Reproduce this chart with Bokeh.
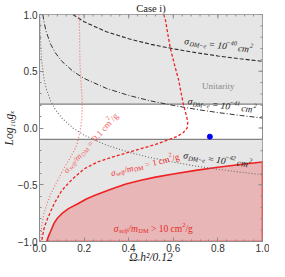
import math
from bokeh.plotting import figure
from bokeh.models import Label, FixedTicker, Range1d, Title
from bokeh.embed import file_html
from bokeh.resources import INLINE

# ---------------- data ----------------
x_ticks = [0.0, 0.2, 0.4, 0.6, 0.8, 1.0]
x_tick_labels = ["0.0", "0.2", "0.4", "0.6", "0.8", "1.0"]
y_ticks = [-1.0, -0.5, 0.0, 0.5, 1.0]
y_tick_labels = ["−1.0", "−0.5", "0.0", "0.5", "1.0"]

band_upper_edge = 0.21    # lower edge of the upper grey (unitarity) band
band_lower_edge = -0.10   # upper edge of the lower grey band

# sigma_DM-e = 1e-40 cm^2 (black dashed)
s40_x = [0.15, 0.2, 0.3, 0.4, 0.5, 0.6, 0.7, 0.8, 0.9, 1.0]
s40_y = [1.0, 0.936, 0.848, 0.786, 0.737, 0.698, 0.664, 0.635, 0.61, 0.587]
# sigma_DM-e = 1e-41 cm^2 (black dash-dot)
s41_x = [0.015, 0.02, 0.03, 0.05, 0.07, 0.1, 0.15, 0.2, 0.3, 0.4, 0.5, 0.6, 0.7, 0.8, 0.9, 1.0]
s41_y = [1.0, 0.937, 0.849, 0.738, 0.665, 0.588, 0.5, 0.437, 0.349, 0.287, 0.238, 0.199, 0.165, 0.136, 0.111, 0.088]
# sigma_DM-e = 1e-42 cm^2 (grey dotted)
s42_x = [0.0015, 0.002, 0.003, 0.005, 0.01, 0.02, 0.03, 0.05, 0.07, 0.1, 0.15, 0.2, 0.3, 0.4, 0.5, 0.6, 0.7, 0.8, 0.9, 1.0]
s42_y = [1.0, 0.937, 0.85, 0.738, 0.588, 0.437, 0.349, 0.238, 0.165, 0.088, 0.0, -0.063, -0.151, -0.213, -0.262, -0.301, -0.335, -0.364, -0.389, -0.412]

# sigma_self/m_DM = 10 cm^2/g (red solid, boundary of red region)
self10_x = [0.032, 0.04, 0.05, 0.065, 0.08, 0.10, 0.13, 0.174, 0.21, 0.246, 0.32, 0.384, 0.45, 0.52, 0.6, 0.7, 0.8, 0.9, 1.0]
self10_y = [-1.0, -0.955, -0.91, -0.84, -0.795, -0.755, -0.71, -0.665, -0.625, -0.595, -0.54, -0.495, -0.462, -0.433, -0.405, -0.373, -0.346, -0.322, -0.30]
# sigma_self/m_DM = 1 cm^2/g (red dashed)
self1_x = [0.557, 0.565, 0.576, 0.587, 0.605, 0.623, 0.645, 0.66, 0.665, 0.662, 0.645, 0.616, 0.57, 0.52, 0.45, 0.39, 0.32, 0.26, 0.2, 0.145, 0.1, 0.065, 0.04, 0.022, 0.009]
self1_y = [1.0, 0.95, 0.82, 0.70, 0.56, 0.43, 0.21, 0.10, 0.05, 0.0, -0.04, -0.076, -0.11, -0.145, -0.185, -0.22, -0.26, -0.30, -0.36, -0.455, -0.55, -0.67, -0.78, -0.87, -1.0]
# sigma_self/m_DM = 0.1 cm^2/g (light red dotted)
self01_x = [0.178, 0.18, 0.181, 0.186, 0.192, 0.19, 0.186, 0.178, 0.167, 0.15, 0.13, 0.108, 0.087, 0.068, 0.051, 0.035, 0.02, 0.01, 0.005]
self01_y = [1.0, 0.8, 0.6, 0.4, 0.23, 0.1, 0.02, -0.07, -0.15, -0.22, -0.29, -0.36, -0.44, -0.51, -0.58, -0.66, -0.75, -0.86, -1.0]

# benchmark point
pt_x = [0.764]
pt_y = [-0.076]

# ---------------- figure ----------------
p = figure(width=269, height=261, output_backend="svg", toolbar_location=None,
           x_range=Range1d(0, 1), y_range=Range1d(-1, 1),
           min_border_left=20, min_border_right=7, min_border_top=0, min_border_bottom=10)
p.background_fill_color = "white"
p.border_fill_color = "white"
p.outline_line_color = "#8c8c8c"
p.xgrid.visible = False
p.ygrid.visible = False

p.title.text = "Case i)"
p.title.text_font = "Liberation Serif"
p.title.text_font_size = "10.5px"
p.title.text_font_style = "normal"
p.title.text_color = "#222222"
p.title.align = "center"
p.title.standoff = 1

GREY = "#e6e6e6"
p.quad(left=[0], right=[1], bottom=[band_upper_edge], top=[1], fill_color=GREY, line_color=None)
p.quad(left=[0], right=[1], bottom=[-1], top=[band_lower_edge], fill_color=GREY, line_color=None)
p.line([0, 1], [band_upper_edge, band_upper_edge], line_color="#808080", line_width=1.3)
p.line([0, 1], [band_lower_edge, band_lower_edge], line_color="#808080", line_width=1.3)

# red excluded region
p.patch(self10_x + [1.0, self10_x[0]], self10_y + [-1.0, -1.0],
        fill_color="#e8b6b6", line_color="#ee2222", line_width=1.6)

p.line(s40_x, s40_y, line_color="#2a2a2a", line_width=1.1, line_dash="4 2")
p.line(s41_x, s41_y, line_color="#333333", line_width=1.0, line_dash="5 2 1 2")
p.line(s42_x, s42_y, line_color="#6a6a6a", line_width=1.1, line_dash="1 2")
p.line(self1_x, self1_y, line_color="#ee2222", line_width=1.3, line_dash="3 2")
p.line(self01_x, self01_y, line_color="#f07070", line_width=1.2, line_dash="1 2")
p.scatter(pt_x, pt_y, size=5, color="#0000ff")

# ---------------- axes (frame with inward ticks) ----------------
x_minor = [i * 0.04 for i in range(26)]
y_minor = [-1 + i * 0.1 for i in range(21)]
p.xaxis.ticker = FixedTicker(ticks=x_ticks, minor_ticks=x_minor)
p.yaxis.ticker = FixedTicker(ticks=y_ticks, minor_ticks=y_minor)
p.xaxis.major_label_overrides = {k: v for k, v in zip(x_ticks, x_tick_labels)}
p.yaxis.major_label_overrides = {k: v for k, v in zip(y_ticks, y_tick_labels)}
for ax in (p.xaxis[0], p.yaxis[0]):
    ax.axis_line_color = "#8c8c8c"
    ax.major_tick_line_color = "#8c8c8c"
    ax.minor_tick_line_color = "#8c8c8c"
    ax.major_tick_in = 4
    ax.major_tick_out = 0
    ax.minor_tick_in = 2
    ax.minor_tick_out = 0
    ax.major_label_text_font = "Liberation Sans"
    ax.major_label_text_font_size = "10px"
    ax.major_label_text_color = "#333333"
    ax.major_label_standoff = 2

# axis titles as side-panel titles
x_title = Title(text="Ωᵧh²/0.12", align="center", vertical_align="top",
                text_font="Liberation Serif", text_font_size="11.5px", text_font_style="italic",
                text_color="#222222", standoff=-7, offset=0)
y_title = Title(text="Log₁₀gₓ", align="center", text_font="Liberation Serif",
                text_font_size="11.5px", text_font_style="italic", text_color="#222222",
                standoff=0, offset=0)
p.add_layout(x_title, "below")
p.add_layout(y_title, "left")

# inward ticks on the top and right frame edges (markers clipped by the frame)
TICK = "#8c8c8c"
p.scatter(x_ticks, [1.0] * len(x_ticks), marker="dash", angle=math.pi / 2, size=8, line_color=TICK)
p.scatter(x_minor, [1.0] * len(x_minor), marker="dash", angle=math.pi / 2, size=4, line_color=TICK)
p.scatter([1.0] * len(y_ticks), y_ticks, marker="dash", size=8, line_color=TICK)
p.scatter([1.0] * len(y_minor), y_minor, marker="dash", size=4, line_color=TICK)

# ---------------- rich text helper ----------------
CW = {' ': 250, '=': 564, '>': 564, '−': 564, '-': 333, '.': 250, '/': 278, 'c': 444, 'm': 778,
      'e': 444, 's': 389, 'l': 278, 'f': 333, 'g': 500, 'D': 722, 'M': 889, 'σ': 560, 'U': 722,
      'n': 500, 'i': 278, 't': 278, 'a': 444, 'r': 333, 'y': 444}

def tw(t, s):
    return sum(CW.get(ch, 500) for ch in t) * s / 1000.0

def rich(x, y, pieces, angle=0.0, color="#222222", font="Liberation Serif"):
    a = math.radians(angle)
    ux, uy = math.cos(a), math.sin(a)
    nx, ny = -math.sin(a), math.cos(a)
    total = sum(tw(t, s) for t, s, sh, st in pieces)
    base_size = max(s for t, s, sh, st in pieces)
    pos = -total / 2
    h0 = -0.33 * base_size
    for t, s, sh, st in pieces:
        lead = len(t) - len(t.lstrip(' '))
        start = pos + tw(' ' * lead, s)
        txt = t.strip(' ')
        ox = start * ux + (h0 + sh) * nx
        oy = start * uy + (h0 + sh) * ny
        p.add_layout(Label(x=x, y=y, x_offset=ox, y_offset=oy, text=txt, angle=a,
                           text_font=font, text_font_size=f"{s}px", text_font_style=st,
                           text_color=color, text_align="left", text_baseline="alphabetic"))
        pos += tw(t, s)

def sig_dm(exp, size=9.5):
    sub = round(size * 0.67, 1)
    return [("σ", size, 0, "italic"), ("DM−e", sub, -2, "italic"), (" = 10", size, 0, "italic"),
            ("−" + exp, sub, 4, "italic"), (" cm", size, 0, "italic"), ("2", sub, 4, "italic")]

def sig_self(rel, val, size=9):
    sub = round(size * 0.67, 1)
    return [("σ", size, 0, "italic"), ("self", sub, -2, "italic"), ("/m", size, 0, "italic"),
            ("DM", sub, -2, "normal"), (f" {rel} {val} cm", size, 0, "normal"), ("2", sub, 4, "normal"),
            ("/g", size, 0, "normal")]

rich(0.805, 0.755, sig_dm("40"), angle=-7.5)
rich(0.82, 0.225, sig_dm("41"), angle=-7.5)
rich(0.80, -0.255, sig_dm("42"), angle=-8)
rich(0.8, 0.40, [("Unitarity", 9, 0, "normal")], color="#8a8a8a")
rich(0.22, -0.115, sig_self("=", "0.1"), angle=48, color="#ef6060")
rich(0.47, -0.30, sig_self("=", "1"), angle=14, color="#ee2a2a")
rich(0.51, -0.86, sig_self(">", "10", 9.5), color="#e52a2a")

open("out.html", "w").write(file_html(p, INLINE))
